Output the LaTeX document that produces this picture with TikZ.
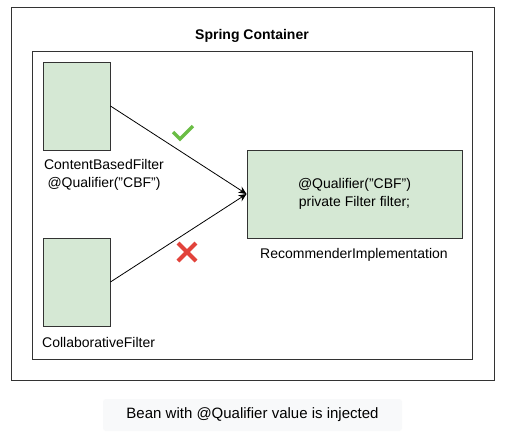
\documentclass[tikz,border=0pt]{standalone}
\usepackage{fontspec}
\setmainfont{Liberation Sans}
\usetikzlibrary{arrows.meta}
\definecolor{beanfill}{HTML}{D5E8D4}
\definecolor{edge}{HTML}{333333}
\definecolor{okgreen}{HTML}{6ABD45}
\definecolor{badred}{HTML}{E2433B}
\definecolor{capfill}{HTML}{F8F9FA}
\begin{document}
\begin{tikzpicture}[x=1pt,y=-1pt,
  frame/.style={draw=edge,line width=1pt,rectangle,inner sep=0pt},
  bean/.style={draw=edge,line width=0.9pt,fill=beanfill,rectangle,inner sep=0pt},
  lbl/.style={font=\fontsize{14}{18}\selectfont,inner sep=0pt,align=center},
  conn/.style={draw=black,line width=0.8pt,-{Stealth[length=8pt,width=7pt,inset=2.5pt]}}]
\useasboundingbox (0,0) rectangle (519,434);
\fill[white] (0,0) rectangle (519,434);
\node[frame,minimum width=483pt,minimum height=373pt] (outer) at (252.5,193.5) {};
\node[frame,minimum width=440pt,minimum height=308pt] (inner) at (252,205) {};
\node[lbl,font=\bfseries\fontsize{14}{17}\selectfont] (title) at (252,36) {Spring Container};
\node[bean,minimum width=67pt,minimum height=88pt] (cbf) at (76.5,106) {};
\node[bean,minimum width=67pt,minimum height=88pt] (colf) at (76.5,282) {};
\node[bean,minimum width=215pt,minimum height=88pt,lbl,font=\fontsize{14}{17.5}\selectfont] (rec) at (354.5,194) {@Qualifier("CBF")\\private Filter filter;};
\node[lbl] (cbflbl) at (104,174.5) {ContentBasedFilter\\@Qualifier("CBF")};
\node[lbl,anchor=west] (colflbl) at (42,342) {CollaborativeFilter};
\node[lbl] (reclbl) at (354,255) {RecommenderImplementation};
\draw[conn] (cbf.east) -- (rec.west);
\draw[conn] (colf.east) -- (rec.west);
\coordinate (ck1) at (173,132);
\coordinate (ck2) at (180,139);
\coordinate (ck3) at (193,126);
\draw[okgreen,line width=3.5pt] (ck1) -- (ck2) -- (ck3);
\coordinate (xa) at (178,243);
\coordinate (xb) at (196,261);
\coordinate (xc) at (196,243);
\coordinate (xd) at (178,261);
\draw[badred,line width=4pt] (xa) -- (xb) (xc) -- (xd);
\node[fill=capfill,rounded corners=3pt,minimum width=299pt,minimum height=32pt,lbl,font=\fontsize{15}{18}\selectfont] (cap) at (252.5,415) {Bean with @Qualifier value is injected};
\end{tikzpicture}
\end{document}
